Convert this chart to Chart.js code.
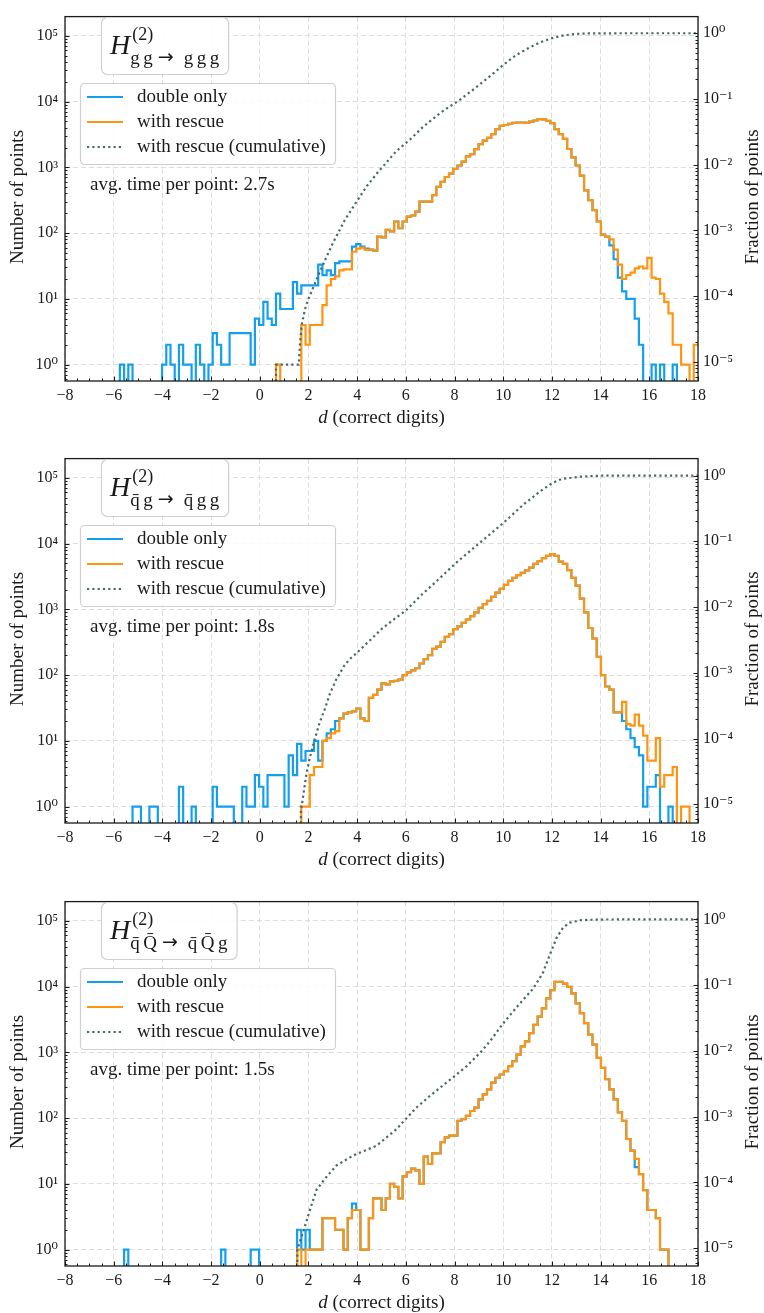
<!DOCTYPE html>
<html><head><meta charset="utf-8">
<script src="https://cdn.jsdelivr.net/npm/chart.js@4.4.1/dist/chart.umd.min.js"></script>
<style>
html,body{margin:0;padding:0;background:#fff;}
body{width:764px;height:1313px;overflow:hidden;position:relative;}
.panel{position:absolute;left:0;width:764px;height:442px;}
canvas{display:block;}
</style></head><body>
<div class="panel" style="top:0px"><canvas id="c0" width="764" height="442"></canvas></div>
<div class="panel" style="top:442px"><canvas id="c1" width="764" height="442"></canvas></div>
<div class="panel" style="top:885px"><canvas id="c2" width="764" height="442"></canvas></div>
<script>
// ---------- data ----------
const binLo = -8, binHi = 18, binCount = 150;   // histogram bin edges
const xMajorTicks = [-8,-6,-4,-2,0,2,4,6,8,10,12,14,16,18];
const xTickLabels = ['\u22128','\u22126','\u22124','\u22122','0','2','4','6','8','10','12','14','16','18'];
const leftTickValues = [1,10,100,1000,10000,100000];
const leftTickLabels = ['10\u2070','10\u00b9','10\u00b2','10\u00b3','10\u2074','10\u2075'];
const rightTickValues = [1e-5,1e-4,1e-3,1e-2,1e-1,1];
const rightTickLabels = ['10\u207b\u2075','10\u207b\u2074','10\u207b\u00b3','10\u207b\u00b2','10\u207b\u00b9','10\u2070'];
const countMin = 0.5623, countMax = 1.96e5;
const seriesNames = ['double only','with rescue','with rescue (cumulative)'];
const titleSubs = [
  [['g','g'],['g','g','g']],
  [['q\u0304','g'],['q\u0304','g','g']],
  [['q\u0304','Q\u0304'],['q\u0304','Q\u0304','g']]
];
const avgTimes = ['avg. time per point: 2.7s','avg. time per point: 1.8s','avg. time per point: 1.5s'];
const totalPoints = [109400, 108300, 105000];

const p1Double = [
0,0,0,0,0,0,0,0,0,0,
0,0,0,1,0,1,0,0,0,0,
0,0,0,1,2,1,0,2,1,1,
0,2,1,0,1,3,2,1,1,3,
3,3,3,3,1,5,4,9,5,4,
12,7,7,7,18,12,16,16,16,16,
33,23,27,23,35,37,37,37,62,68,
62,58,56,54,88,86,112,106,150,119,
150,178,185,212,300,300,300,377,505,600,
712,800,950,1065,1220,1470,1590,1890,2250,2550,
2800,3200,3800,4270,4400,4600,4750,4800,4800,4750,
4950,5150,5400,5350,5100,4700,3800,3200,2700,1900,
1420,1065,750,446,317,224,150,95,88,65,
40,21,13,10,10,5,2,0,0,1,
0,1,0,0,1,0,0,0,0,0];
const p1Rescue = [
0,0,0,0,0,0,0,0,0,0,
0,0,0,0,0,0,0,0,0,0,
0,0,0,0,0,0,0,0,0,0,
0,0,0,0,0,0,0,0,0,0,
0,0,0,0,0,0,0,0,0,0,
1,0,0,0,0,0,4,2,4,4,
4,8,16,20,22,27,28,28,52,58,
60,56,56,54,88,86,112,106,150,119,
150,178,185,212,300,300,300,377,505,600,
712,800,950,1065,1220,1470,1590,1890,2250,2550,
2800,3200,3800,4270,4400,4600,4750,4800,4800,4750,
4950,5150,5400,5350,5100,4700,3800,3200,2700,1900,
1420,1065,750,446,317,224,150,95,88,80,
56,33,20,23,25,29,31,29,42,21,
20,12,9,6,2,2,1,1,0,2];
const p1CumD    = [0.667,0.667,1.60,1.65,1.72,1.86,2.0,2.2,2.45,2.7,3.0,3.3,3.5,4.0,4.4,4.85,5.1,5.6,6.2,6.7,7.3,7.6,8.2,8.8,9.1,9.5,10.0,10.5,11.0,11.5,12.0,12.5,13.0,13.5,14.0,15.0,18.0];
const p1CumFrac = [1e-9,9.1e-6,9.1e-6,1.83e-5,3.66e-5,6.4e-5,9.14e-5,1.37e-4,2.29e-4,3.66e-4,6.4e-4,1.05e-3,1.46e-3,2.83e-3,4.75e-3,7.68e-3,9.78e-3,0.016,0.0247,0.0375,0.0567,0.0686,0.096,0.142,0.174,0.229,0.329,0.457,0.585,0.722,0.841,0.932,0.978,0.9945,0.998,0.9995,1.0];

const p2Double = [
0,0,0,0,0,0,0,0,0,0,
0,0,0,0,0,0,1,1,0,0,
1,1,0,0,0,0,0,2,0,0,
1,0,0,0,0,2,1,1,1,1,
0,0,2,1,1,3,2,1,3,3,
3,3,1,6,3,9,5,7,7,10,
5,10,13,15,20,22,26,27,28,31,
22,20,45,50,60,75,72,80,82,85,
100,110,118,127,150,175,200,250,270,320,
380,420,500,550,620,700,790,900,1050,1200,
1350,1550,1800,2050,2350,2700,3000,3300,3600,3900,
4300,4900,5400,6000,6500,6900,6500,5300,4900,3950,
3000,2300,1450,900,520,360,190,100,67,60,
27,27,20,15,11,8,6,1,2,2,
3,0,0,1,0,0,0,0,0,0];
const p2Rescue = [
0,0,0,0,0,0,0,0,0,0,
0,0,0,0,0,0,0,0,0,0,
0,0,0,0,0,0,0,0,0,0,
0,0,0,0,0,0,0,0,0,0,
0,0,0,0,0,0,0,0,0,0,
0,0,0,0,0,0,1,1,3,4,
4,10,11,13,14,22,26,27,28,31,
22,20,45,50,60,75,72,80,82,85,
100,110,118,127,150,175,200,250,270,320,
380,420,500,550,620,700,790,900,1050,1200,
1350,1550,1800,2050,2350,2700,3000,3300,3600,3900,
4300,4900,5400,6000,6500,6900,6500,5300,4900,3950,
3000,2300,1450,900,520,360,190,100,67,60,
27,27,39,18,17,25,17,12,5,5,
11,2,3,3,4,0,1,1,0,0];
const p2CumD    = [1.69,1.69,1.72,1.82,1.92,2.06,2.24,2.44,2.68,2.88,3.13,3.45,3.7,4.0,4.5,5.0,5.5,6.0,6.6,7.27,8.08,9.04,10.0,10.82,11.51,12.0,12.4,13.15,14.0,15.0,18.0];
const p2CumFrac = [1e-9,9.23e-6,9.23e-6,1.66e-5,2.95e-5,5.17e-5,9.23e-5,1.66e-4,2.86e-4,4.8e-4,7.76e-4,1.25e-3,1.62e-3,2.03e-3,3.05e-3,4.62e-3,6.46e-3,8.86e-3,0.0148,0.0249,0.0476,0.0951,0.189,0.36,0.572,0.766,0.886,0.96,0.993,0.999,1.0];

const p3Double = [
0,0,0,0,0,0,0,0,0,0,
0,0,0,0,1,0,0,0,0,0,
0,0,0,0,0,0,0,0,0,0,
0,0,0,0,0,0,0,1,0,0,
0,0,0,0,1,1,0,0,0,0,
0,0,0,0,0,2,1,2,1,1,
1,3,3,3,2,2,1,3,5,4,
1,1,3,6,6,4,6,10,9,6,
13,15,17,16,10,26,20,29,29,43,
51,54,54,91,96,108,128,144,193,230,
274,346,410,460,516,616,731,922,1230,1470,
1960,2620,3490,4660,6600,8800,11800,11800,11100,9900,
7860,5550,3930,2780,1860,1310,825,580,390,274,
193,122,91,48,32,18,14,8,4,4,
3,1,1,0,0,0,0,0,0,0];
const p3Rescue = [
0,0,0,0,0,0,0,0,0,0,
0,0,0,0,0,0,0,0,0,0,
0,0,0,0,0,0,0,0,0,0,
0,0,0,0,0,0,0,0,0,0,
0,0,0,0,0,0,0,0,0,0,
0,0,0,0,0,1,0,1,1,1,
1,3,3,3,2,2,1,3,4,4,
1,1,3,6,6,4,6,10,9,6,
13,15,17,16,10,26,20,29,29,43,
51,54,54,91,96,108,128,144,193,230,
274,346,410,460,516,616,731,922,1230,1470,
1960,2620,3490,4660,6600,8800,11800,11800,11100,9900,
7860,5550,3930,2780,1860,1310,825,580,390,274,
193,122,91,48,32,24,14,8,4,4,
3,1,1,0,0,0,0,0,0,0];
const p3CumD    = [1.54,1.54,1.79,2.06,2.33,2.68,3.15,3.84,4.8,5.62,6.0,6.44,6.99,7.67,8.0,8.5,9.04,9.45,10.0,10.4,10.8,11.23,11.64,11.92,12.19,12.46,12.74,13.15,13.83,15.0,18.0];
const p3CumFrac = [1e-9,9.52e-6,1.81e-5,3.81e-5,7.71e-5,1.14e-4,1.81e-4,2.57e-4,3.62e-4,6.48e-4,9.24e-4,1.38e-3,2.07e-3,3.3e-3,4.14e-3,5.86e-3,9.29e-3,0.0139,0.0263,0.0396,0.059,0.0886,0.157,0.295,0.524,0.752,0.895,0.971,0.995,0.9995,1.0];

// ---------- style ----------
const F = "'Liberation Serif','DejaVu Serif',serif";
const BLUE = '#139fee', ORANGE = '#ff9410', CUM = '#4a6868';
const GRID = '#dcdcdc', TXT = '#1a1a1a', FRAME = '#1a1a1a';
const CUM_DASH = [2.2, 3.1];

const edges = [];
for (let i = 0; i <= binCount; i++) edges.push(binLo + (binHi - binLo) * i / binCount);
const xTickPositions = [];
for (let v = -8; v <= 18; v += 0.5) xTickPositions.push(v);

function logTicks(min, max) {
  const out = [];
  for (let e = Math.floor(Math.log10(min)); e <= Math.ceil(Math.log10(max)); e++) {
    for (let m = 1; m <= 9; m++) {
      const v = m * Math.pow(10, e);
      if (v >= min * 0.999999 && v <= max * 1.000001) out.push({value: v, major: m === 1});
    }
  }
  return out;
}
function labelFor(v, vals, labels) {
  const i = vals.findIndex(t => Math.abs(Math.log10(t) - Math.log10(v)) < 1e-6);
  return i >= 0 ? labels[i] : '';
}
function stepPoints(vals, floorVal) {
  const pts = vals.map((v, i) => ({x: edges[i], y: v > 0 ? v : floorVal}));
  pts.push({x: edges[binCount], y: pts[pts.length - 1].y});
  return pts;
}
function roundRect(ctx, x, y, w, h, r) {
  ctx.beginPath();
  ctx.moveTo(x + r, y);
  ctx.lineTo(x + w - r, y); ctx.arcTo(x + w, y, x + w, y + r, r);
  ctx.lineTo(x + w, y + h - r); ctx.arcTo(x + w, y + h, x + w - r, y + h, r);
  ctx.lineTo(x + r, y + h); ctx.arcTo(x, y + h, x, y + h - r, r);
  ctx.lineTo(x, y + r); ctx.arcTo(x, y, x + r, y, r);
  ctx.closePath();
}

const framePlugin = {
  id: 'frame',
  afterDatasetsDraw(chart) {
    const {ctx, chartArea: a, scales} = chart;
    ctx.save();
    ctx.strokeStyle = FRAME; ctx.lineWidth = 1;
    ctx.beginPath();
    for (const t of scales.x.ticks) {
      const px = Math.round(scales.x.getPixelForValue(t.value)) + 0.5;
      const len = t.major ? 4.5 : 2.5;
      ctx.moveTo(px, a.bottom); ctx.lineTo(px, a.bottom - len);
    }
    for (const t of scales.y.ticks) {
      const py = Math.round(scales.y.getPixelForValue(t.value)) + 0.5;
      const len = t.major ? 4.5 : 2.5;
      ctx.moveTo(a.left, py); ctx.lineTo(a.left + len, py);
    }
    for (const t of scales.y2.ticks) {
      const py = Math.round(scales.y2.getPixelForValue(t.value)) + 0.5;
      const len = t.major ? 4.5 : 2.5;
      ctx.moveTo(a.right, py); ctx.lineTo(a.right - len, py);
    }
    ctx.stroke();
    ctx.lineWidth = 1.3;
    ctx.strokeRect(a.left, a.top, a.right - a.left, a.bottom - a.top);
    ctx.restore();
  }
};

function annotPlugin(idx) {
  return {
    id: 'annot' + idx,
    afterDraw(chart) {
      const ctx = chart.ctx;
      ctx.save();
      ctx.fillStyle = TXT;
      // ----- title box: H^(2)_{a -> b}
      const subFont = '19px ' + F, arrowFont = "19px 'DejaVu Sans', sans-serif";
      const [lhs, rhs] = titleSubs[idx];
      const letterGap = 3.5, preArrow = 5, postArrow = 10;
      ctx.font = 'italic 28px ' + F; const wH = ctx.measureText('H').width;
      ctx.font = '18px ' + F; const wSup = ctx.measureText('(2)').width;
      ctx.font = subFont;
      const wTok = t => ctx.measureText(t).width;
      let wSub = 0;
      lhs.forEach((t, i) => { wSub += wTok(t) + (i ? letterGap : 0); });
      rhs.forEach((t, i) => { wSub += wTok(t) + (i ? letterGap : 0); });
      ctx.font = arrowFont; const wArrow = ctx.measureText('\u2192').width;
      wSub += preArrow + wArrow + postArrow;
      const bx = 101, by = 17, bh = 57, hx = 110, sx = hx + wH + 1;
      const bw = sx + Math.max(wSup, wSub) + 8 - bx;
      roundRect(ctx, bx + 0.5, by + 0.5, bw, bh, 6);
      ctx.fillStyle = 'rgba(255,255,255,0.9)'; ctx.fill();
      ctx.strokeStyle = '#d0d0d0'; ctx.lineWidth = 1.2; ctx.stroke();
      ctx.fillStyle = TXT; ctx.textBaseline = 'alphabetic'; ctx.textAlign = 'left';
      ctx.font = 'italic 28px ' + F; ctx.fillText('H', hx, 53.5);
      ctx.font = '18px ' + F; ctx.fillText('(2)', sx + 1, 40);
      let cx = sx - 1;
      ctx.font = subFont;
      lhs.forEach((t, i) => { if (i) cx += letterGap; ctx.fillText(t, cx, 64); cx += wTok(t); });
      cx += preArrow;
      ctx.font = arrowFont; ctx.fillText('\u2192', cx, 63); cx += wArrow + postArrow;
      ctx.font = subFont;
      rhs.forEach((t, i) => { if (i) cx += letterGap; ctx.fillText(t, cx, 64); cx += wTok(t); });
      // ----- legend
      roundRect(ctx, 80.5, 83.5, 255, 81, 4);
      ctx.fillStyle = 'rgba(255,255,255,0.85)'; ctx.fill();
      ctx.strokeStyle = '#d0d0d0'; ctx.lineWidth = 1.2; ctx.stroke();
      const cols = [BLUE, ORANGE, CUM];
      ctx.font = '19px ' + F; ctx.textBaseline = 'middle';
      for (let i = 0; i < 3; i++) {
        const y = 97 + 25 * i;
        ctx.beginPath();
        ctx.strokeStyle = cols[i];
        ctx.lineWidth = 2.2;
        ctx.setLineDash(i === 2 ? CUM_DASH : []);
        ctx.moveTo(87, y); ctx.lineTo(123, y); ctx.stroke();
        ctx.setLineDash([]);
        ctx.fillStyle = TXT;
        ctx.fillText(seriesNames[i], 137, y);
      }
      ctx.fillText(avgTimes[idx], 90, 185);
      // ----- axis titles
      ctx.textAlign = 'center';
      ctx.save(); ctx.translate(18.5, 197); ctx.rotate(-Math.PI / 2);
      ctx.fillText('Number of points', 0, 0); ctx.restore();
      ctx.save(); ctx.translate(753, 197); ctx.rotate(-Math.PI / 2);
      ctx.fillText('Fraction of points', 0, 0); ctx.restore();
      ctx.textAlign = 'left'; ctx.textBaseline = 'alphabetic';
      ctx.font = 'italic 19px ' + F; const wd = ctx.measureText('d').width;
      ctx.font = '19px ' + F; const wr = ctx.measureText(' (correct digits)').width;
      const x0 = 381.5 - (wd + wr) / 2;
      ctx.font = 'italic 19px ' + F; ctx.fillText('d', x0, 423);
      ctx.font = '19px ' + F; ctx.fillText(' (correct digits)', x0 + wd, 423);
      ctx.restore();
    }
  };
}

const panels = [
  {d: p1Double, r: p1Rescue, cx: p1CumD, cy: p1CumFrac},
  {d: p2Double, r: p2Rescue, cx: p2CumD, cy: p2CumFrac},
  {d: p3Double, r: p3Rescue, cx: p3CumD, cy: p3CumFrac}
];

panels.forEach((p, idx) => {
  const total = totalPoints[idx];
  const floorCount = countMin / 100;
  const cumPts = p.cx.map((x, i) => ({x: x, y: p.cy[i]}));
  const gridWidth = c => (c.tick && c.tick.major) ? 1 : 0;
  new Chart(document.getElementById('c' + idx), {
    type: 'line',
    data: {
      datasets: [
        {label: seriesNames[2], data: cumPts, yAxisID: 'y2', borderColor: CUM,
         borderWidth: 2.2, borderDash: CUM_DASH, borderCapStyle: 'butt', tension: 0,
         pointRadius: 0, fill: false, clip: 0, order: 0},
        {label: seriesNames[1], data: stepPoints(p.r, floorCount), yAxisID: 'y', borderColor: ORANGE,
         borderWidth: 2.2, borderJoinStyle: 'miter', stepped: 'before', pointRadius: 0, fill: false, clip: 0, order: 1},
        {label: seriesNames[0], data: stepPoints(p.d, floorCount), yAxisID: 'y', borderColor: BLUE,
         borderWidth: 2.2, borderJoinStyle: 'miter', stepped: 'before', pointRadius: 0, fill: false, clip: 0, order: 2}
      ]
    },
    options: {
      responsive: false, animation: false, events: [],
      layout: {padding: {top: 13, left: 0, right: 0, bottom: 0}},
      plugins: {legend: {display: false}, tooltip: {enabled: false}},
      scales: {
        x: {
          type: 'linear', min: -8, max: 18,
          afterBuildTicks: s => { s.ticks = xTickPositions.map(v => ({value: v, major: xMajorTicks.includes(v)})); },
          ticks: {autoSkip: false, maxRotation: 0, minRotation: 0, padding: 5, color: TXT,
                  font: {family: F, size: 16},
                  callback: v => { const i = xMajorTicks.indexOf(v); return i >= 0 ? xTickLabels[i] : ''; }},
          grid: {drawTicks: false, color: GRID, lineWidth: gridWidth},
          border: {display: false, dash: [5, 3]},
          afterFit: s => { s.height = 61; }
        },
        y: {
          type: 'logarithmic', position: 'left', min: countMin, max: countMax,
          afterBuildTicks: s => { s.ticks = logTicks(countMin, countMax); },
          ticks: {autoSkip: false, padding: 7, color: TXT, font: {family: F, size: 16},
                  callback: v => labelFor(v, leftTickValues, leftTickLabels)},
          grid: {drawTicks: false, color: GRID, lineWidth: gridWidth},
          border: {display: false, dash: [5, 3]},
          afterFit: s => { s.width = 65; }
        },
        y2: {
          type: 'logarithmic', position: 'right', min: countMin / total, max: countMax / total,
          afterBuildTicks: s => { s.ticks = logTicks(countMin / total, countMax / total); },
          ticks: {autoSkip: false, padding: 5, color: TXT, font: {family: F, size: 16},
                  callback: v => labelFor(v, rightTickValues, rightTickLabels)},
          grid: {display: false, drawOnChartArea: false, drawTicks: false},
          border: {display: false},
          afterFit: s => { s.width = 66; }
        }
      }
    },
    plugins: [framePlugin, annotPlugin(idx)]
  });
});
</script>
</body></html>
